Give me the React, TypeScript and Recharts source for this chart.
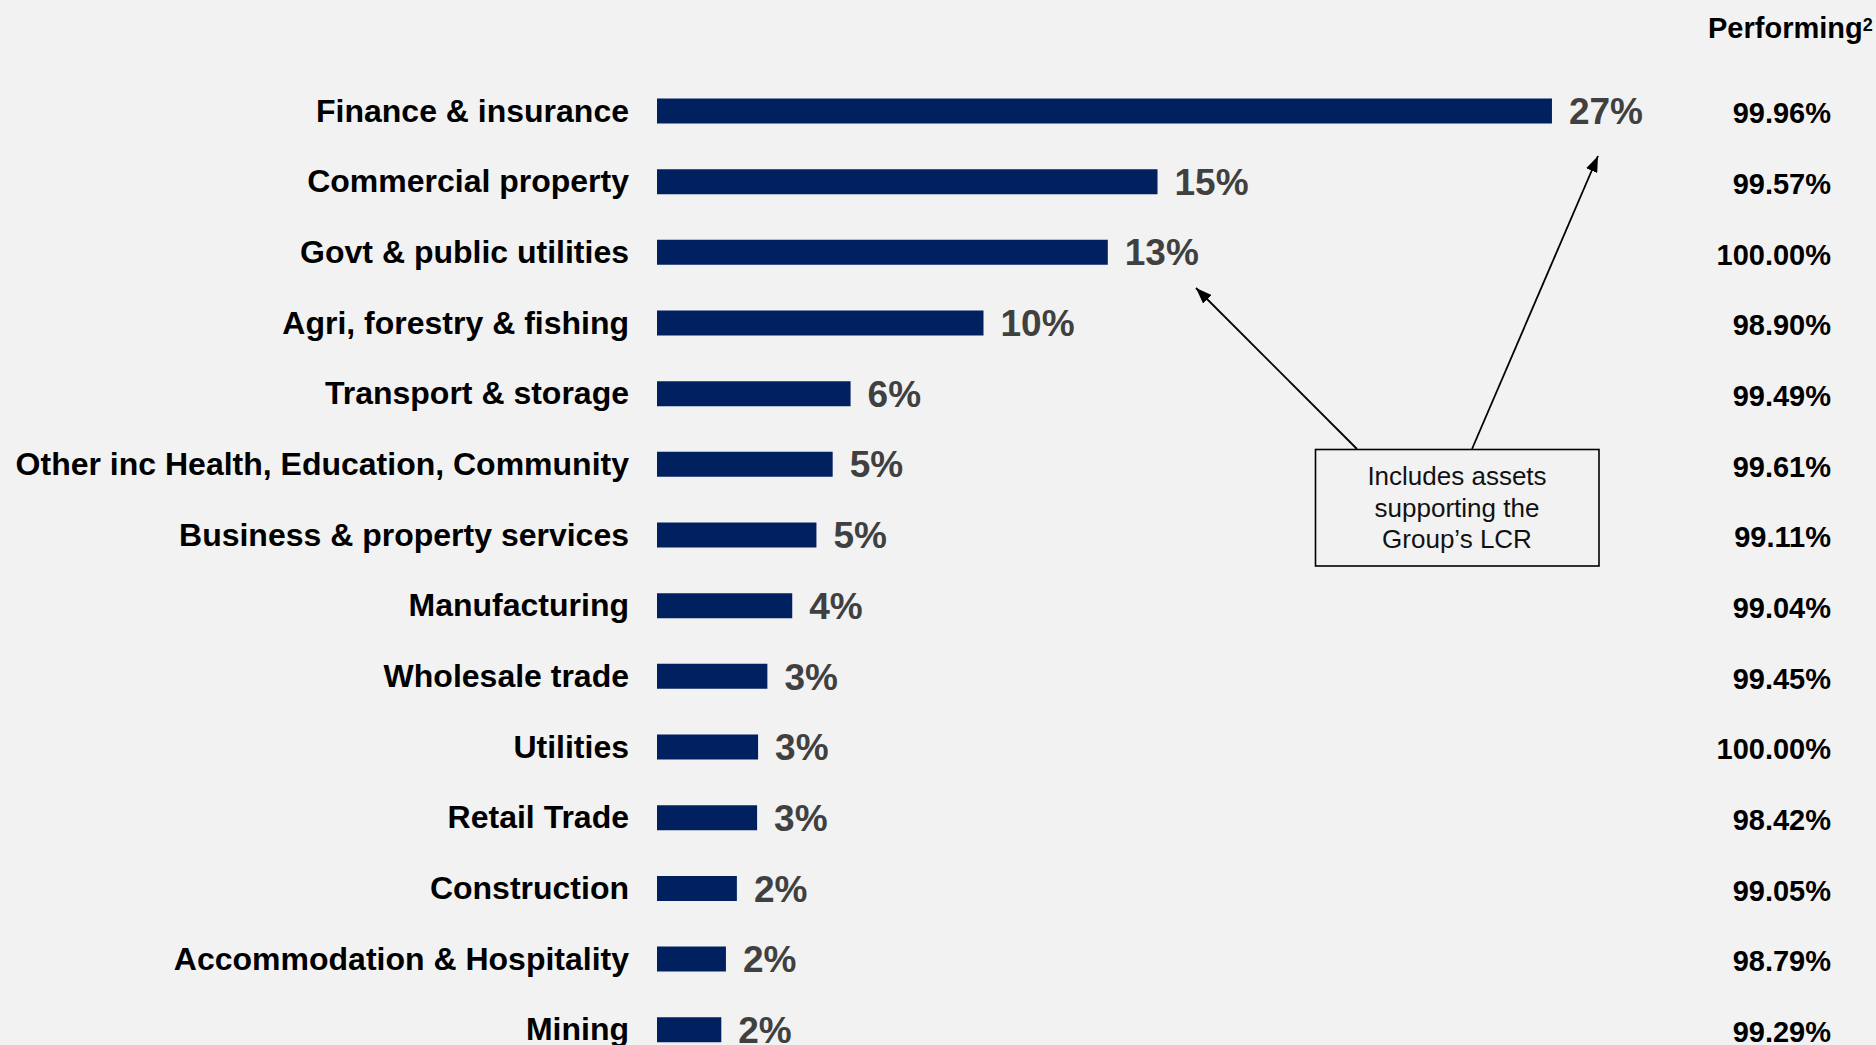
import React from 'react';
import { BarChart, Bar, XAxis, YAxis, LabelList } from 'recharts';

const categories = [
  'Finance & insurance',
  'Commercial property',
  'Govt & public utilities',
  'Agri, forestry & fishing',
  'Transport & storage',
  'Other inc Health, Education, Community',
  'Business & property services',
  'Manufacturing',
  'Wholesale trade',
  'Utilities',
  'Retail Trade',
  'Construction',
  'Accommodation & Hospitality',
  'Mining',
];
const shares = [27.0, 15.1, 13.6, 9.85, 5.84, 5.3, 4.81, 4.08, 3.33, 3.05, 3.02, 2.41, 2.08, 1.94];
const shareLabels = ['27%', '15%', '13%', '10%', '6%', '5%', '5%', '4%', '3%', '3%', '3%', '2%', '2%', '2%'];
const performing = ['99.96%', '99.57%', '100.00%', '98.90%', '99.49%', '99.61%', '99.11%', '99.04%', '99.45%', '100.00%', '98.42%', '99.05%', '98.79%', '99.29%'];
const performingHeader = 'Performing';
const performingNote = '2';
const calloutLines = ['Includes assets', 'supporting the', 'Group\u2019s LCR'];

const data = categories.map((name, i) => ({
  name,
  share: shares[i],
  label: shareLabels[i],
  performing: performing[i],
}));

const FONT = '"Liberation Sans", Arial, Helvetica, sans-serif';
const W = 1876;
const H = 1070;
const PERF_X = 1831;

const CategoryTick = (props: any) => {
  const { x, y, payload } = props;
  return (
    <text x={x} y={y} dy="0.34em" textAnchor="end" fill="#000" fontSize={32} fontWeight={700} fontFamily={FONT}>
      {payload.value}
    </text>
  );
};

const PerformingLabel = (props: any) => {
  const { y, height, value } = props;
  const cy = Number(y) + Number(height) / 2 + 2;
  return (
    <text x={PERF_X} y={cy} dy="0.355em" textAnchor="end" fill="#000" fontSize={29} fontWeight={700} fontFamily={FONT}>
      {value}
    </text>
  );
};

export default function App() {
  return (
    <div
      style={{
        position: 'fixed',
        left: 0,
        top: 0,
        width: W,
        height: 1045,
        overflow: 'hidden',
        background: '#f2f2f2',
        fontFamily: FONT,
      }}
    >
      <BarChart
        width={W}
        height={H}
        data={data}
        layout="vertical"
        margin={{ top: 75.5, right: 224.6, bottom: 5.1, left: 0 }}
        style={{ fontFamily: FONT }}
      >
        <XAxis type="number" domain={[0, 30]} hide allowDataOverflow />
        <YAxis
          type="category"
          dataKey="name"
          width={657}
          axisLine={false}
          tickLine={false}
          tickSize={0}
          tickMargin={28}
          interval={0}
          tick={<CategoryTick />}
        />
        <Bar dataKey="share" fill="#002060" barSize={25} isAnimationActive={false}>
          <LabelList
            dataKey="label"
            position="right"
            offset={17}
            fill="#404040"
            fontSize={37}
            fontWeight={700}
            fontFamily={FONT}
          />
          <LabelList dataKey="performing" content={<PerformingLabel />} />
        </Bar>
      </BarChart>
      <svg
        width={W}
        height={1045}
        style={{ position: 'absolute', left: 0, top: 0, pointerEvents: 'none' }}
      >
        <defs>
          <marker
            id="arrowHead"
            markerWidth={16}
            markerHeight={12}
            refX={16}
            refY={6}
            orient="auto"
            markerUnits="userSpaceOnUse"
          >
            <path d="M0,0 L16,6 L0,12 z" fill="#000" />
          </marker>
        </defs>
        <text x={1708} y={37.7} fontSize={29} fontWeight={700} fill="#000" fontFamily={FONT}>
          {performingHeader}
          <tspan fontSize={18} dy={-7}>{performingNote}</tspan>
        </text>
        <line x1={1357} y1={449} x2={1196} y2={288} stroke="#000" strokeWidth={1.8} markerEnd="url(#arrowHead)" />
        <line x1={1472} y1={449} x2={1598} y2={156} stroke="#000" strokeWidth={1.8} markerEnd="url(#arrowHead)" />
        <rect x={1315.5} y={449.5} width={283.5} height={116.5} fill="#f2f2f2" stroke="#000" strokeWidth={1.6} />
        {calloutLines.map((t, i) => (
          <text key={i} x={1457} y={485 + i * 31.5} textAnchor="middle" fontSize={26} fill="#111" fontFamily={FONT}>
            {t}
          </text>
        ))}
      </svg>
    </div>
  );
}
